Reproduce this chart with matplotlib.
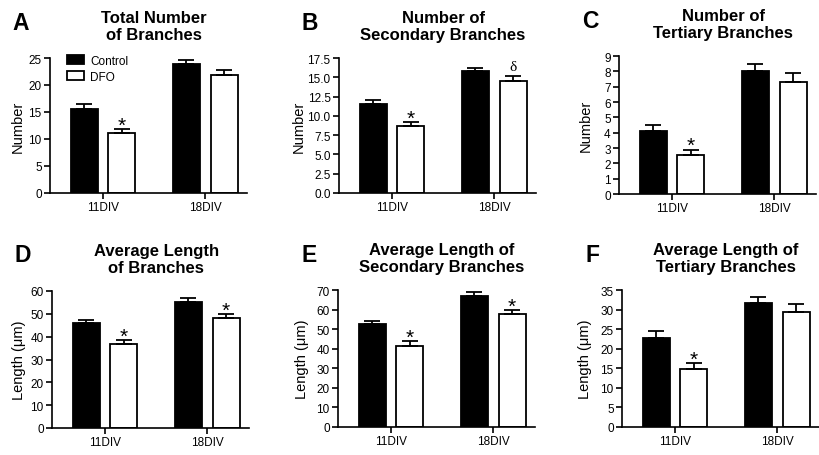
import numpy as np
import matplotlib
matplotlib.use('Agg')
import matplotlib.pyplot as plt
import matplotlib.transforms as mtransforms
from matplotlib.patches import Patch

plt.rcParams['font.family'] = ['Liberation Sans', 'DejaVu Sans']

groups = ['11DIV', '18DIV']
series = ['Control', 'DFO']

letters = ['A', 'B', 'C', 'D', 'E', 'F']
titles = ['Total Number\nof Branches', 'Number of\nSecondary Branches',
          'Number of\nTertiary Branches', 'Average Length\nof Branches',
          'Average Length of\nSecondary Branches', 'Average Length of\nTertiary Branches']
ylabels = ['Number', 'Number', 'Number', 'Length (μm)', 'Length (μm)', 'Length (μm)']

control_mean = [[15.6, 23.9], [11.5, 15.8], [4.13, 8.04], [45.9, 55.0], [52.8, 66.9], [22.8, 31.8]]
control_err = [[0.8, 0.7], [0.55, 0.43], [0.37, 0.44], [1.3, 1.8], [1.4, 2.1], [1.7, 1.4]]
dfo_mean = [[11.2, 21.9], [8.68, 14.56], [2.54, 7.33], [36.6, 48.0], [41.4, 57.75], [14.7, 29.5]]
dfo_err = [[0.65, 0.9], [0.52, 0.65], [0.35, 0.54], [1.8, 1.9], [2.4, 2.0], [1.6, 2.0]]
marks = [['*', ''], ['*', 'δ'], ['*', ''], ['*', '*'], ['*', '*'], ['*', '']]

y_max = [25, 17.5, 9, 60, 70, 35]
y_step = [5, 2.5, 1, 10, 10, 5]

# axes boxes in pixels: left, top, bottom
boxes = [(50, 59, 194), (339, 59, 194), (619, 57, 195),
         (52, 292, 429), (338, 291, 428), (622, 291, 428)]
label_x = [-0.13, -0.168, -0.135, -0.13, -0.145, -0.15]
W, H = 820, 456
ax_w = 197

fig = plt.figure(figsize=(W / 100, H / 100), dpi=100)

x = np.arange(len(groups))
bw = 0.265
off = 0.185

for i in range(6):
    left, top, bottom = boxes[i]
    ax = fig.add_axes([left / W, (H - bottom) / H, ax_w / W, (bottom - top) / H])

    ax.bar(x - off, control_mean[i], bw, color='black', edgecolor='black', linewidth=1.3, zorder=2)
    ax.bar(x + off, dfo_mean[i], bw, color='white', edgecolor='black', linewidth=1.3, zorder=2)
    ax.errorbar(x - off, control_mean[i], yerr=[np.zeros(2), control_err[i]], fmt='none',
                ecolor='black', elinewidth=1.3, capsize=5.5, capthick=1.3, zorder=3)
    ax.errorbar(x + off, dfo_mean[i], yerr=[np.zeros(2), dfo_err[i]], fmt='none',
                ecolor='black', elinewidth=1.3, capsize=5.5, capthick=1.3, zorder=3)

    for j in range(2):
        m = marks[i][j]
        if m == '*':
            ax.annotate(m, (x[j] + off, dfo_mean[i][j] + dfo_err[i][j]), xytext=(0, -1),
                        textcoords='offset points', ha='center', va='baseline', fontsize=15)
        elif m:
            ax.annotate(m, (x[j] + off, dfo_mean[i][j] + dfo_err[i][j]), xytext=(0, 4),
                        textcoords='offset points', ha='center', va='baseline', fontsize=11,
                        family=['Liberation Serif', 'DejaVu Serif'])

    ax.set_xlim(-0.52, 1.41)
    ax.set_ylim(0, y_max[i])
    ticks = np.arange(0, y_max[i] + y_step[i] / 2, y_step[i])
    ax.set_yticks(ticks)
    if i == 1:
        ax.set_yticklabels(['%.1f' % t for t in ticks])
    ax.set_xticks(x)
    ax.set_xticklabels(groups)
    ax.tick_params(labelsize=8.5, length=4, width=1.2, pad=2)
    for s in ['top', 'right']:
        ax.spines[s].set_visible(False)
    for s in ['left', 'bottom']:
        ax.spines[s].set_linewidth(1.2)

    ax.set_ylabel(ylabels[i], fontsize=10.5)
    ax.yaxis.set_label_coords(label_x[i], 0.5)

    trans = mtransforms.blended_transform_factory(ax.transData, ax.transAxes)
    trans = mtransforms.offset_copy(trans, fig=fig, y=32, units='dots')
    ax.text(0.5, 1.0, titles[i], transform=trans, ha='center', va='center',
            fontsize=12, fontweight='bold', linespacing=1.1)

    ltrans = mtransforms.offset_copy(ax.transAxes, fig=fig, x=-29, y=36, units='dots')
    ax.text(0, 1, letters[i], transform=ltrans, ha='center', va='center',
            fontsize=16.5, fontweight='bold')

    if i == 0:
        handles = [Patch(facecolor='black', edgecolor='black', linewidth=1.3),
                   Patch(facecolor='white', edgecolor='black', linewidth=1.3)]
        ax.legend(handles, series, loc='upper left', bbox_to_anchor=(0.06, 1.06),
                  frameon=False, fontsize=8.5, handlelength=1.5, handleheight=0.75,
                  labelspacing=0.35, handletextpad=0.5, borderaxespad=0)

fig.savefig('out.png', dpi=100)
